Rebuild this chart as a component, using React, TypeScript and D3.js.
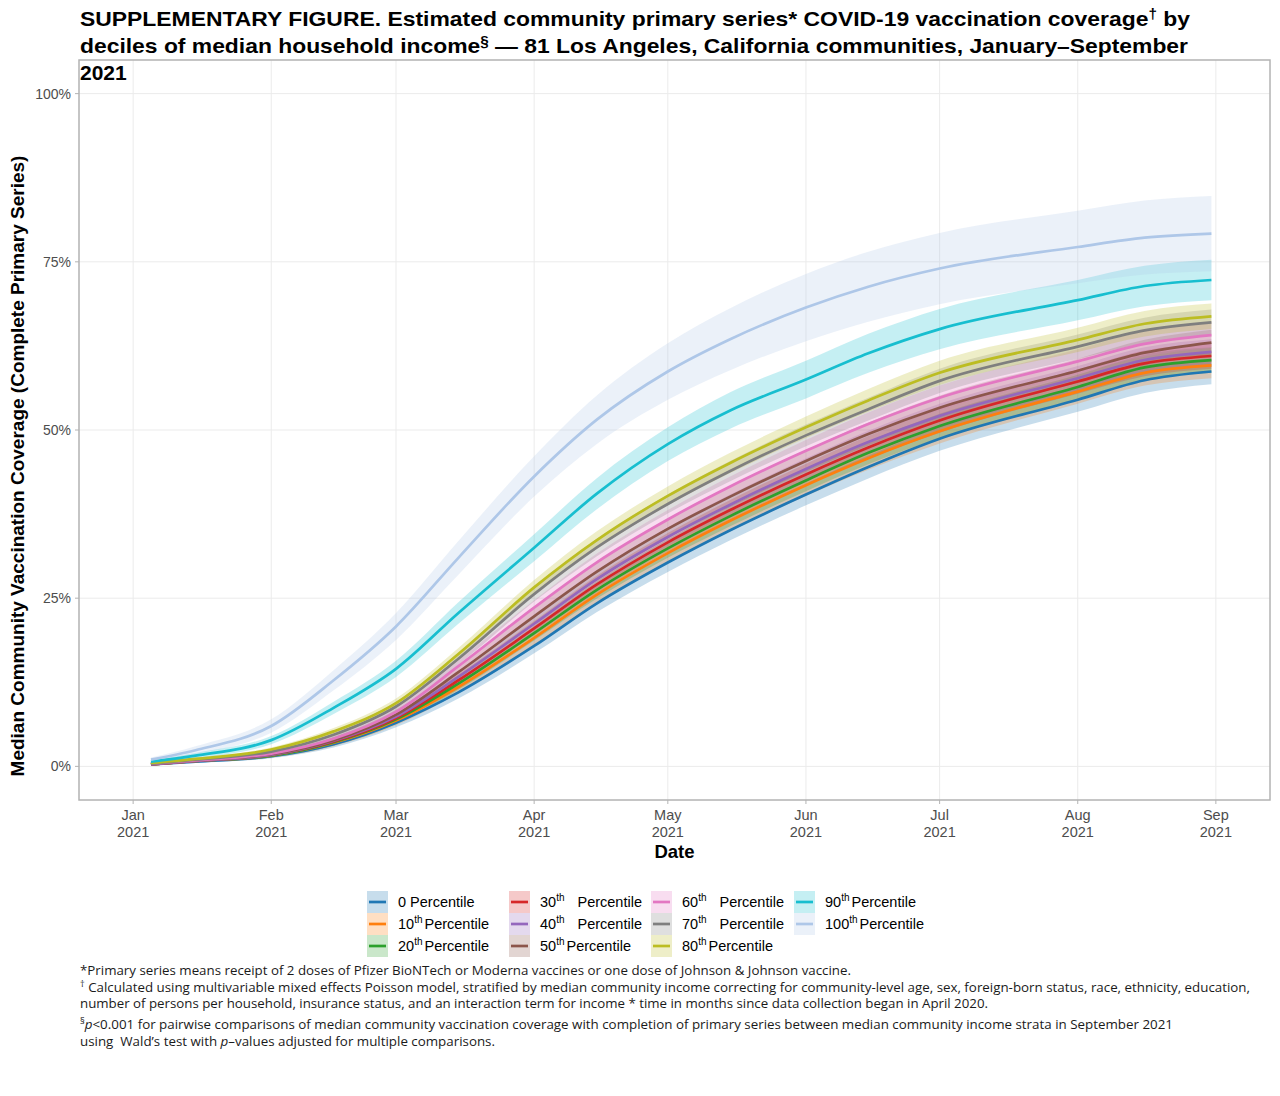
import * as d3 from "d3";

// Evaluation dates of the modelled coverage curves
const dates = [
  "2021-01-05", "2021-01-15", "2021-02-01", "2021-02-15", "2021-03-01", "2021-03-15",
  "2021-04-01", "2021-04-15", "2021-05-01", "2021-05-15", "2021-06-01", "2021-06-15",
  "2021-07-01", "2021-08-01", "2021-08-16", "2021-08-31",
];

// Median coverage (%) per income decile
const p0 = [0.3, 0.7, 1.5, 3.3, 6.5, 11.0, 17.9, 24.2, 30.3, 35.1, 40.4, 44.5, 48.7, 54.5, 57.4, 58.7];
const p10 = [0.3, 0.8, 1.6, 3.5, 6.8, 11.8, 19.1, 25.5, 31.7, 36.5, 41.8, 45.8, 49.8, 55.7, 58.5, 59.6];
const p20 = [0.3, 0.8, 1.6, 3.6, 7.0, 12.3, 19.8, 26.2, 32.4, 37.2, 42.5, 46.6, 50.6, 56.4, 59.3, 60.4];
const p30 = [0.3, 0.8, 1.7, 3.7, 7.2, 12.8, 20.5, 27.0, 33.3, 38.1, 43.4, 47.4, 51.4, 57.2, 59.9, 61.0];
const p40 = [0.3, 0.8, 1.7, 3.8, 7.4, 13.3, 21.2, 27.8, 34.1, 38.9, 44.2, 48.2, 52.1, 57.7, 60.4, 61.6];
const p50 = [0.4, 0.9, 1.8, 3.9, 7.7, 14.0, 22.3, 28.9, 35.3, 40.1, 45.4, 49.4, 53.3, 58.8, 61.5, 63.0];
const p60 = [0.4, 0.9, 1.9, 4.1, 8.1, 14.9, 23.6, 30.3, 36.7, 41.6, 46.9, 50.9, 54.8, 60.2, 62.8, 64.1];
const p70 = [0.4, 1.0, 2.2, 4.7, 8.9, 16.0, 25.6, 32.5, 39.0, 43.9, 49.2, 53.1, 57.3, 62.4, 64.8, 66.0];
const p80 = [0.5, 1.1, 2.5, 5.2, 9.4, 16.7, 26.6, 33.6, 40.2, 45.1, 50.4, 54.4, 58.5, 63.4, 65.8, 66.9];
const p90 = [0.7, 1.6, 3.9, 8.7, 14.5, 22.8, 32.5, 40.5, 47.9, 52.9, 57.5, 61.4, 65.0, 69.3, 71.4, 72.3];
const p100 = [1.0, 2.4, 6.0, 12.8, 20.8, 31.0, 43.1, 51.5, 58.7, 63.5, 68.2, 71.3, 74.0, 77.2, 78.6, 79.2];

// Half-width of the confidence bands (%)
const ciLow = [0.1, 0.2, 0.3, 0.5, 0.7, 0.9, 1.1, 1.3, 1.4, 1.5, 1.6, 1.7, 1.8, 1.8, 1.9, 1.9];
const ci90 = [0.2, 0.4, 0.6, 0.9, 1.2, 1.6, 2.0, 2.3, 2.5, 2.7, 2.8, 2.9, 3.0, 3.0, 3.0, 3.0];
const ci100 = [0.3, 0.6, 1.0, 1.5, 2.0, 2.5, 3.0, 3.6, 4.2, 4.6, 5.0, 5.2, 5.3, 5.4, 5.5, 5.6];

const deciles = ["0", "10", "20", "30", "40", "50", "60", "70", "80", "90", "100"];
const values = [p0, p10, p20, p30, p40, p50, p60, p70, p80, p90, p100];
const bands = [ciLow, ciLow, ciLow, ciLow, ciLow, ciLow, ciLow, ciLow, ciLow, ci90, ci100];
const colors = ["#1f77b4", "#ff7f0e", "#2ca02c", "#d62728", "#9467bd", "#8c564b",
  "#e377c2", "#7f7f7f", "#bcbd22", "#17becf", "#aec7e8"];

const xLimits = ["2021-01-01", "2021-09-01"];
const xTicks = ["2021-01-01", "2021-02-01", "2021-03-01", "2021-04-01", "2021-05-01",
  "2021-06-01", "2021-07-01", "2021-08-01", "2021-09-01"];
const yTicks = [0, 25, 50, 75, 100];

const W = 1280;
const H = 1096;
const m = { left: 79, right: 1270, top: 60, bottom: 800 };
const SANS = "'Liberation Sans', Arial, sans-serif";
const NOTE = "'Open Sans', 'Noto Sans', sans-serif";

export default function App() {
  const parse = d3.utcParse("%Y-%m-%d");
  const t0 = +parse(xLimits[0])!;
  const t1 = +parse(xLimits[1])!;
  const pad = (t1 - t0) * 0.05;
  const x = d3.scaleUtc().domain([new Date(t0 - pad), new Date(t1 + pad)]).range([m.left, m.right]);
  const y = d3.scaleLinear().domain([-5, 105]).range([m.bottom, m.top]);

  const ds = dates.map((d) => parse(d)!);

  const line = d3.line<number>()
    .x((_, i) => x(ds[i]))
    .y((v) => y(v))
    .curve(d3.curveMonotoneX);

  const area = (band: number[]) => d3.area<number>()
    .x((_, i) => x(ds[i]))
    .y0((v, i) => y(v - band[i]))
    .y1((v, i) => y(v + band[i]))
    .curve(d3.curveMonotoneX);

  const fmtMon = d3.utcFormat("%b");
  const fmtYr = d3.utcFormat("%Y");

  // legend: 4 columns x 3 rows, column-major like ggplot
  const legX = [367, 509, 651, 794];
  const legY0 = 891;
  const rowH = 22;
  const wideGap = new Set(["30", "40", "60", "70"]);

  return (
    <svg width={W} height={H} style={{ display: "block" }}>
      <style>{`body{margin:0}`}</style>
      <rect width={W} height={H} fill="#fff" />

      {/* grid */}
      {xTicks.map((t) => (
        <line key={t} x1={x(parse(t)!)} x2={x(parse(t)!)} y1={m.top} y2={m.bottom}
          stroke="#ebebeb" strokeWidth={1} />
      ))}
      {yTicks.map((t) => (
        <line key={t} x1={m.left} x2={m.right} y1={y(t)} y2={y(t)} stroke="#ebebeb" strokeWidth={1} />
      ))}

      {/* ribbons */}
      {values.map((v, i) => (
        <path key={"b" + i} d={area(bands[i])(v) ?? ""} fill={colors[i]} fillOpacity={0.25} />
      ))}
      {/* lines */}
      {values.map((v, i) => (
        <path key={"l" + i} d={line(v) ?? ""} fill="none" stroke={colors[i]} strokeWidth={2.7} />
      ))}

      {/* panel border */}
      <rect x={m.left} y={m.top} width={m.right - m.left} height={m.bottom - m.top}
        fill="none" stroke="#b3b3b3" strokeWidth={1.5} />

      {/* y axis */}
      {yTicks.map((t) => (
        <g key={"y" + t}>
          <line x1={m.left - 4} x2={m.left} y1={y(t)} y2={y(t)} stroke="#b3b3b3" />
          <text x={m.left - 8} y={y(t) + 5} textAnchor="end" fontFamily={SANS} fontSize={14}
            fill="#4d4d4d">{d3.format(".0%")(t / 100)}</text>
        </g>
      ))}
      <text transform={`translate(24,466) rotate(-90)`} textAnchor="middle"
        fontFamily={SANS} fontSize={19} fontWeight="bold" fill="#000">
        Median Community Vaccination Coverage (Complete Primary Series)
      </text>

      {/* x axis */}
      {xTicks.map((t) => {
        const d = parse(t)!;
        return (
          <g key={"x" + t}>
            <line x1={x(d)} x2={x(d)} y1={m.bottom} y2={m.bottom + 4} stroke="#b3b3b3" />
            <text x={x(d)} y={820} textAnchor="middle" fontFamily={SANS} fontSize={14.5} fill="#4d4d4d">
              {fmtMon(d)}
            </text>
            <text x={x(d)} y={837} textAnchor="middle" fontFamily={SANS} fontSize={14.5} fill="#4d4d4d">
              {fmtYr(d)}
            </text>
          </g>
        );
      })}
      <text x={(m.left + m.right) / 2} y={858} textAnchor="middle" fontFamily={SANS} fontSize={18.5}
        fontWeight="bold" fill="#000">Date</text>

      {/* legend */}
      {deciles.map((d, i) => {
        const col = Math.floor(i / 3);
        const row = i % 3;
        const kx = legX[col];
        const ky = legY0 + row * rowH;
        return (
          <g key={"lg" + d}>
            <rect x={kx} y={ky} width={21} height={rowH} fill={colors[i]} fillOpacity={0.25} />
            <line x1={kx + 2} x2={kx + 19} y1={ky + rowH / 2} y2={ky + rowH / 2} stroke={colors[i]}
              strokeWidth={2.7} />
            <text x={kx + 31} y={ky + rowH / 2 + 5} fontFamily={SANS} fontSize={14.5} fill="#000">
              {d}
              {d !== "0" && <tspan fontSize={10} dy={-6}>th</tspan>}
              <tspan dy={d !== "0" ? 6 : 0} dx={wideGap.has(d) ? 13 : d !== "0" ? 2 : 4}>Percentile</tspan>
            </text>
          </g>
        );
      })}

      {/* title */}
      <g fontFamily={SANS} fontWeight="bold" fill="#000" fontSize={21}>
        <text x={80} y={26} textLength={1110} lengthAdjust="spacingAndGlyphs">
          SUPPLEMENTARY FIGURE. Estimated community primary series* COVID-19 vaccination coverage
          <tspan fontSize={14} dy={-7}>†</tspan>
          <tspan dy={7}> by</tspan>
        </text>
        <text x={80} y={53} textLength={1108} lengthAdjust="spacingAndGlyphs">
          deciles of median household income
          <tspan fontSize={14} dy={-7}>§</tspan>
          <tspan dy={7}> — 81 Los Angeles, California communities, January–September</tspan>
        </text>
        <text x={80} y={80}>2021</text>
      </g>

      {/* footnotes */}
      <g fontFamily={NOTE} fontSize={13} fill="#1a1a1a">
        <text x={80} y={975} textLength={771} lengthAdjust="spacingAndGlyphs">
          *Primary series means receipt of 2 doses of Pfizer BioNTech or Moderna vaccines or one dose of Johnson &amp; Johnson vaccine.
        </text>
        <text x={80} y={992} textLength={1170} lengthAdjust="spacingAndGlyphs">
          <tspan fontSize={9} dy={-5}>†</tspan>
          <tspan dy={5}> Calculated using multivariable mixed effects Poisson model, stratified by median community income correcting for community-level age, sex, foreign-born status, race, ethnicity, education,</tspan>
        </text>
        <text x={80} y={1008} textLength={908} lengthAdjust="spacingAndGlyphs">
          number of persons per household, insurance status, and an interaction term for income * time in months since data collection began in April 2020.
        </text>
        <text x={80} y={1029} textLength={1093} lengthAdjust="spacingAndGlyphs">
          <tspan fontSize={9} dy={-5}>§</tspan>
          <tspan dy={5} fontStyle="italic">p</tspan>
          <tspan>{"<0.001 for pairwise comparisons of median community vaccination coverage with completion of primary series between median community income strata in September 2021"}</tspan>
        </text>
        <text x={80} y={1046} textLength={415} lengthAdjust="spacingAndGlyphs" xmlSpace="preserve">
          <tspan>{"using  Wald’s test with "}</tspan>
          <tspan fontStyle="italic">p</tspan>
          <tspan>–values adjusted for multiple comparisons.</tspan>
        </text>
      </g>
    </svg>
  );
}
